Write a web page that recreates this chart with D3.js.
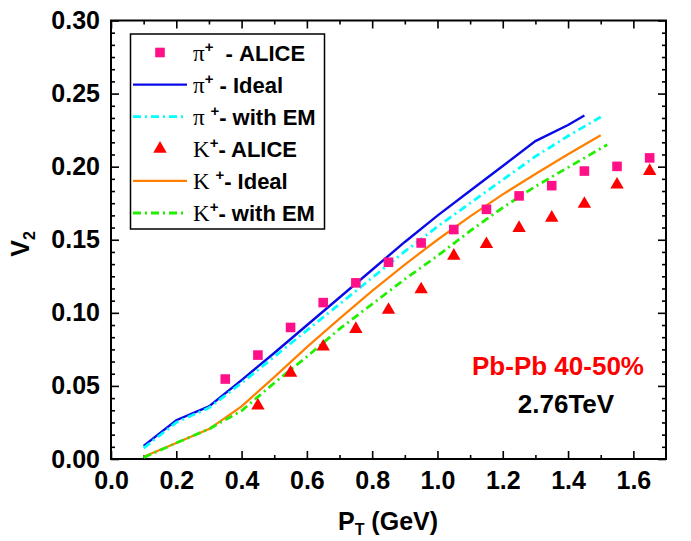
<!DOCTYPE html>
<html>
<head>
<meta charset="utf-8">
<script src="https://cdn.jsdelivr.net/npm/d3@7/dist/d3.min.js"></script>
<style>
  body { margin: 0; background: #fff; }
  svg { display: block; font-family: "Liberation Sans", Arial, sans-serif; }
  .tick text { font-family: "Liberation Sans", Arial, sans-serif; font-weight: bold; font-size: 25px; fill: #000; }
</style>
</head>
<body>
<div id="chart"></div>
<script>
// ALICE measured points
var piAliceX = [0.35, 0.45, 0.55, 0.65, 0.75, 0.85, 0.95, 1.05, 1.15, 1.25, 1.35, 1.45, 1.55, 1.65],
	piAliceV2 = [0.0547, 0.0711, 0.0900, 0.1070, 0.1205, 0.1346, 0.1478, 0.1570, 0.1708, 0.1800, 0.1870, 0.1970, 0.2002, 0.2060],
	kAliceX = [0.45, 0.55, 0.65, 0.75, 0.85, 0.95, 1.05, 1.15, 1.25, 1.35, 1.45, 1.55, 1.65],
	kAliceV2 = [0.0365, 0.0590, 0.0768, 0.0889, 0.1020, 0.1160, 0.1390, 0.1470, 0.1580, 0.1650, 0.1745, 0.1877, 0.1970];

// model curves
var piIdealX = [0.1, 0.2, 0.3, 0.4, 0.5, 0.6, 0.7, 0.8, 0.9, 1.0, 1.1, 1.2, 1.3, 1.4, 1.45],
	piIdealV2 = [0.0090, 0.0265, 0.0360, 0.0540, 0.0725, 0.0915, 0.1105, 0.1295, 0.1485, 0.1665, 0.1835, 0.2005, 0.2175, 0.2285, 0.2350],
	piEmX = [0.1, 0.2, 0.3, 0.4, 0.5, 0.6, 0.7, 0.8, 0.9, 1.0, 1.1, 1.2, 1.3, 1.4, 1.5],
	piEmV2 = [0.0075, 0.0250, 0.0350, 0.0520, 0.0700, 0.0880, 0.1060, 0.1240, 0.1420, 0.1590, 0.1750, 0.1910, 0.2070, 0.2210, 0.2340],
	kIdealX = [0.1, 0.2, 0.3, 0.4, 0.5, 0.6, 0.7, 0.8, 0.9, 1.0, 1.1, 1.2, 1.3, 1.4, 1.5],
	kIdealV2 = [0.0015, 0.0110, 0.0205, 0.0360, 0.0560, 0.0765, 0.0960, 0.1150, 0.1330, 0.1500, 0.1660, 0.1810, 0.1950, 0.2085, 0.2215],
	kEmX = [0.1, 0.2, 0.3, 0.4, 0.5, 0.6, 0.7, 0.8, 0.9, 1.0, 1.1, 1.2, 1.3, 1.4, 1.52],
	kEmV2 = [0.0010, 0.0110, 0.0205, 0.0330, 0.0520, 0.0700, 0.0890, 0.1060, 0.1230, 0.1390, 0.1560, 0.1720, 0.1865, 0.1995, 0.2150];

var xTicks = [0, 0.2, 0.4, 0.6, 0.8, 1.0, 1.2, 1.4, 1.6],
	yTicks = [0, 0.05, 0.10, 0.15, 0.20, 0.25, 0.30];

var width = 691,
	height = 541,
	plotLeft = 111,
	plotRight = 666,
	plotTop = 20.5,
	plotBottom = 459,
	dashDot = "8,4,2,4";

var svg = d3.select("#chart").append("svg")
	.attr("width", width)
	.attr("height", height);

var x = d3.scaleLinear().domain([0, 1.7]).range([plotLeft, plotRight]);
var y = d3.scaleLinear().domain([0, 0.30]).range([plotBottom, plotTop]);

// minor tick positions
var xMinor = d3.range(0.1, 1.7, 0.2);
var yMinor = d3.range(0, 36).map(function (i) { return i * 0.05 / 6; })
	.filter(function (v, i) { return i % 6 != 0; });

function styleAxis(g) {
	g.select(".domain").remove();
	g.selectAll(".tick line").attr("stroke", "#000").attr("stroke-width", 1.6);
}

// major axes with labels
svg.append("g").attr("transform", "translate(0," + plotBottom + ")")
	.call(d3.axisBottom(x).tickValues(xTicks).tickFormat(d3.format(".1f")).tickSize(-8).tickPadding(12))
	.call(styleAxis);
svg.append("g").attr("transform", "translate(" + plotLeft + ",0)")
	.call(d3.axisLeft(y).tickValues(yTicks).tickFormat(d3.format(".2f")).tickSize(-8).tickPadding(11))
	.call(styleAxis);
svg.append("g").attr("transform", "translate(0," + plotTop + ")")
	.call(d3.axisTop(x).tickValues(xTicks).tickFormat("").tickSize(-8))
	.call(styleAxis);
svg.append("g").attr("transform", "translate(" + plotRight + ",0)")
	.call(d3.axisRight(y).tickValues(yTicks).tickFormat("").tickSize(-8))
	.call(styleAxis);

// minor ticks
svg.append("g").attr("transform", "translate(0," + plotBottom + ")")
	.call(d3.axisBottom(x).tickValues(xMinor).tickFormat("").tickSize(-4)).call(styleAxis);
svg.append("g").attr("transform", "translate(0," + plotTop + ")")
	.call(d3.axisTop(x).tickValues(xMinor).tickFormat("").tickSize(-4)).call(styleAxis);
svg.append("g").attr("transform", "translate(" + plotLeft + ",0)")
	.call(d3.axisLeft(y).tickValues(yMinor).tickFormat("").tickSize(-4)).call(styleAxis);
svg.append("g").attr("transform", "translate(" + plotRight + ",0)")
	.call(d3.axisRight(y).tickValues(yMinor).tickFormat("").tickSize(-4)).call(styleAxis);

// frame
svg.append("rect")
	.attr("x", plotLeft).attr("y", plotTop)
	.attr("width", plotRight - plotLeft).attr("height", plotBottom - plotTop)
	.attr("fill", "none").attr("stroke", "#000").attr("stroke-width", 2);

// curves
var line = d3.line()
	.x(function (d) { return x(d[0]); })
	.y(function (d) { return y(d[1]); });

var curves = [
	{ xs: piIdealX, vs: piIdealV2, color: "#0a0ae8", dash: null, w: 2.4 },
	{ xs: piEmX, vs: piEmV2, color: "#00ffff", dash: dashDot, w: 2.8 },
	{ xs: kIdealX, vs: kIdealV2, color: "#ff8000", dash: null, w: 2.2 },
	{ xs: kEmX, vs: kEmV2, color: "#22ee00", dash: dashDot, w: 2.8 }
];

curves.forEach(function (c) {
	svg.append("path")
		.datum(d3.zip(c.xs, c.vs))
		.attr("d", line)
		.attr("fill", "none")
		.attr("stroke", c.color)
		.attr("stroke-width", c.w)
		.attr("stroke-dasharray", c.dash);
});

// data points
var square = d3.symbol().type(d3.symbolSquare).size(92),
	triangle = d3.symbol().type(d3.symbolTriangle).size(78);

svg.append("g").selectAll("path")
	.data(d3.zip(piAliceX, piAliceV2)).enter().append("path")
	.attr("d", square)
	.attr("transform", function (d) { return "translate(" + x(d[0]) + "," + y(d[1]) + ")"; })
	.attr("fill", "#ff1088");

svg.append("g").selectAll("path")
	.data(d3.zip(kAliceX, kAliceV2)).enter().append("path")
	.attr("d", triangle)
	.attr("transform", function (d) { return "translate(" + x(d[0]) + "," + y(d[1]) + ")"; })
	.attr("fill", "#ff0000");

// legend
var legend = svg.append("g");
legend.append("rect")
	.attr("x", 130.5).attr("y", 34)
	.attr("width", 194).attr("height", 195)
	.attr("fill", "#fff").attr("stroke", "#000").attr("stroke-width", 1.5);

var legendItems = [
	{ sym: "square", color: "#ff1088", parts: ["\u03c0", "+", "  - ALICE"] },
	{ sym: "line", color: "#0a0ae8", dash: null, parts: ["\u03c0", "+", " - Ideal"] },
	{ sym: "line", color: "#00ffff", dash: dashDot, parts: ["\u03c0 ", "+", "- with EM"] },
	{ sym: "triangle", color: "#ff0000", parts: ["K", "+", "- ALICE"] },
	{ sym: "line", color: "#ff8000", dash: null, parts: ["K ", "+", "- Ideal"] },
	{ sym: "line", color: "#22ee00", dash: dashDot, parts: ["K", "+", "- with EM"] }
];

legendItems.forEach(function (item, i) {
	var cy = 52.5 + i * 32.1;
	if (item.sym == "line") {
		legend.append("line")
			.attr("x1", 133).attr("x2", 187)
			.attr("y1", cy).attr("y2", cy)
			.attr("stroke", item.color)
			.attr("stroke-width", item.dash ? 2.8 : 2.4)
			.attr("stroke-dasharray", item.dash);
	} else {
		legend.append("path")
			.attr("d", item.sym == "square" ? square : triangle)
			.attr("transform", "translate(160," + cy + ")")
			.attr("fill", item.color);
	}
	var t = legend.append("text")
		.attr("x", 193).attr("y", cy + 8)
		.attr("xml:space", "preserve")
		.style("font-size", "23px");
	t.append("tspan")
		.style("font-family", "'Liberation Serif', 'Times New Roman', serif")
		.text(item.parts[0]);
	t.append("tspan")
		.attr("dy", -9)
		.style("font-size", "15px")
		.style("font-weight", "bold")
		.text(item.parts[1]);
	t.append("tspan")
		.attr("dy", 9)
		.style("font-weight", "bold")
		.style("font-size", "22px")
		.text(item.parts[2]);
});

// annotation
svg.append("text")
	.attr("x", 558).attr("y", 375)
	.attr("text-anchor", "middle")
	.style("font-size", "26px").style("font-weight", "bold")
	.attr("fill", "#ff0000")
	.text("Pb-Pb 40-50%");
svg.append("text")
	.attr("x", 566).attr("y", 413)
	.attr("text-anchor", "middle")
	.style("font-size", "26px").style("font-weight", "bold")
	.attr("fill", "#000")
	.text("2.76TeV");

// axis titles
var xt = svg.append("text")
	.attr("x", 388).attr("y", 530)
	.attr("text-anchor", "middle")
	.style("font-size", "25px").style("font-weight", "bold");
xt.append("tspan").text("P");
xt.append("tspan").attr("dy", 5).style("font-size", "16px").text("T");
xt.append("tspan").attr("dy", -5).text(" (GeV)");

var yt = svg.append("text")
	.attr("transform", "translate(29,244) rotate(-90)")
	.attr("text-anchor", "middle")
	.style("font-size", "25px").style("font-weight", "bold");
yt.append("tspan").text("V");
yt.append("tspan").attr("dy", 6).style("font-size", "16px").text("2");
</script>
</body>
</html>
